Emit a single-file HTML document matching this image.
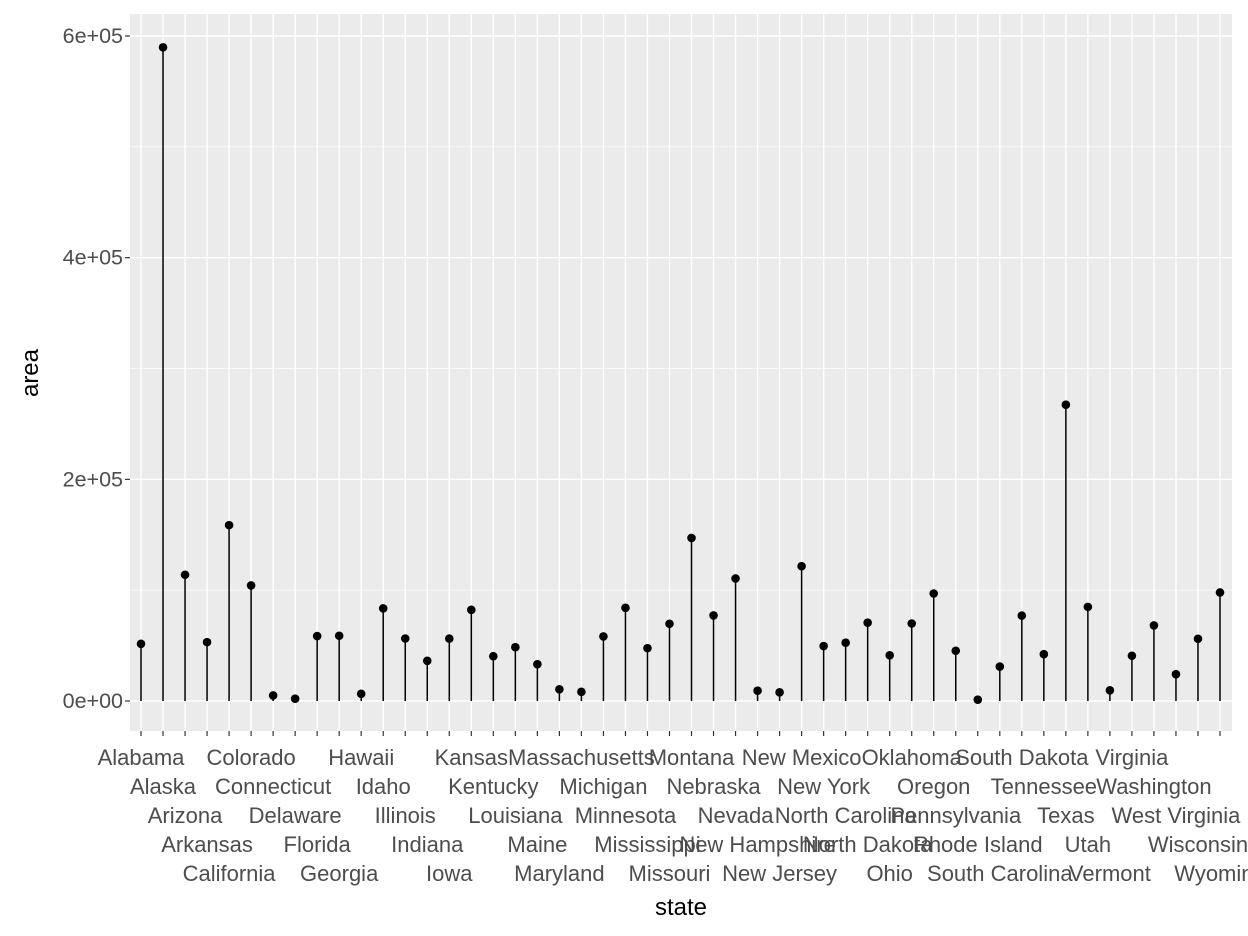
<!DOCTYPE html>
<html><head><meta charset="utf-8"><style>
body{margin:0;background:#fff;}
svg{display:block;font-family:"Liberation Sans",sans-serif;}
</style></head><body>
<svg id="chart" width="1248" height="936">
<rect x="130" y="14" width="1102" height="717" fill="#ebebeb"/>
<g id="grid"></g><g id="marks"></g><g id="axes"></g>
<text x="681" y="915" font-size="24" text-anchor="middle" fill="#000">state</text>
<text x="38" y="373" font-size="24" text-anchor="middle" fill="#000" transform="rotate(-90 38 373)">area</text>
</svg>
<script>
const states=["Alabama","Alaska","Arizona","Arkansas","California","Colorado","Connecticut","Delaware","Florida","Georgia","Hawaii","Idaho","Illinois","Indiana","Iowa","Kansas","Kentucky","Louisiana","Maine","Maryland","Massachusetts","Michigan","Minnesota","Mississippi","Missouri","Montana","Nebraska","Nevada","New Hampshire","New Jersey","New Mexico","New York","North Carolina","North Dakota","Ohio","Oklahoma","Oregon","Pennsylvania","Rhode Island","South Carolina","South Dakota","Tennessee","Texas","Utah","Vermont","Virginia","Washington","West Virginia","Wisconsin","Wyoming"];
const areas=[51609,589757,113909,53104,158693,104247,5009,2057,58560,58876,6450,83557,56400,36291,56290,82264,40395,48523,33215,10577,8257,58216,84068,47716,69686,147138,77227,110540,9304,7836,121666,49576,52586,70665,41222,69919,96981,45333,1214,31055,77047,42244,267339,84916,9609,40815,68192,24181,56154,97914];
const yTicks=[0,200000,400000,600000];
const yTickLabels=["0e+00","2e+05","4e+05","6e+05"];
const NS="http://www.w3.org/2000/svg";
const x=i=>141+i*(1220-141)/(states.length-1);
const y=v=>701-v*(701-36)/600000;
function mk(p,t,a){const e=document.createElementNS(NS,t);for(const k in a)e.setAttribute(k,a[k]);p.appendChild(e);return e;}
const grid=document.getElementById('grid'),marks=document.getElementById('marks'),axes=document.getElementById('axes');
for(let k=0;k<yTicks.length;k++){
  const yy=y(yTicks[k]);
  const g=mk(grid,'line',{x1:130,x2:1232,y1:yy,y2:yy,stroke:'#fff','stroke-width':1.4});
  
  
  if(k<yTicks.length-1){const m=(yTicks[k]+yTicks[k+1])/2;const gm=mk(grid,'line',{x1:130,x2:1232,y1:y(m),y2:y(m),stroke:'#fff','stroke-width':0.7});
  
  }
  const tk=mk(axes,'line',{x1:125,x2:130,y1:yy,y2:yy,stroke:'#333','stroke-width':1.2});
  
  
  const t=mk(axes,'text',{x:123,y:yy+7,'font-size':21.5,'text-anchor':'end',fill:'#4d4d4d'});
  t.textContent=yTickLabels[k];
  
  
}
states.forEach((s,i)=>{
  const xx=x(i);
  const g=mk(grid,'line',{x1:xx,x2:xx,y1:14,y2:731,stroke:'#fff','stroke-width':1.4});
  
  
  const l=mk(marks,'line',{x1:xx,x2:xx,y1:y(0),y2:y(areas[i]),stroke:'#000','stroke-width':1.5});
  
  
  const c=mk(marks,'circle',{cx:xx,cy:y(areas[i]),r:4.3,fill:'#000'});
  
  
  const tk=mk(axes,'line',{x1:xx,x2:xx,y1:731,y2:736,stroke:'#333','stroke-width':1.2});
  
  
  const t=mk(axes,'text',{x:xx,y:765+(i%5)*29,'font-size':22,'text-anchor':'middle',fill:'#4d4d4d'});
  t.textContent=s;
  
  
});
</script>
</body></html>
